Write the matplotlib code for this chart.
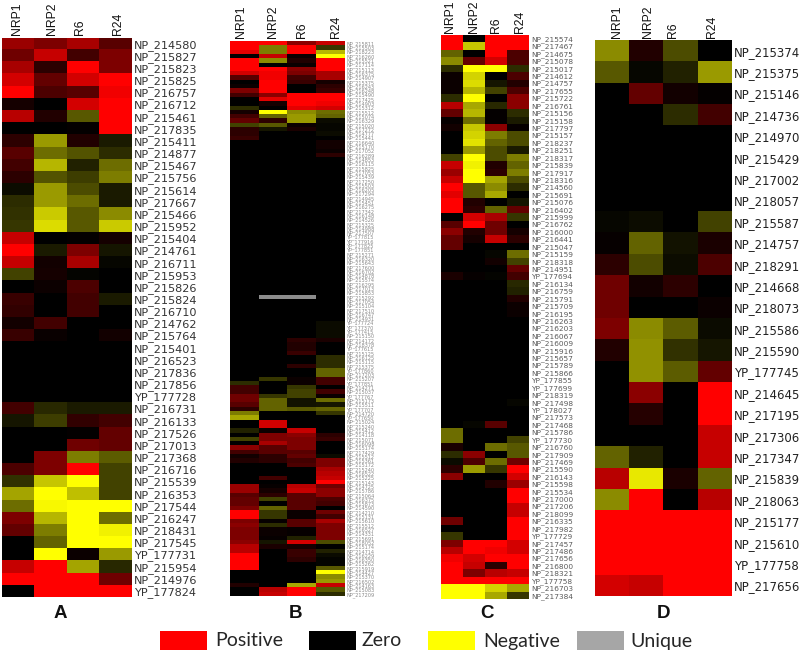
import numpy as np
import matplotlib
matplotlib.use("Agg")
import matplotlib.pyplot as plt
from matplotlib.colors import LinearSegmentedColormap
from matplotlib.patches import Rectangle

W = 800
H = 654

# NaN = unique (grey)
panel_a = [
    [.65, .55, .7, .4], [.5, .8, .3, .55], [.7, .2, 1, .55], [.85, .45, .85, 1],
    [1, .35, .4, .95], [.1, 0, .85, 1], [.75, .15, -.4, 1], [0, 0, .02, 1],
    [.2, -.65, .15, -.12], [.4, -.5, -.38, -.2], [.3, -.75, -.15, -.5], [.2, -.38, -.28, -.55],
    [-.06, -.65, -.35, -.12], [-.2, -.65, -.5, -.12], [-.22, -.82, -.4, -.6], [-.25, -.88, -.4, -.82],
    [.8, 0, .02, .1], [1, -.12, .55, -.1], [.8, .08, .7, -.03], [-.3, .1, -.02, 0],
    [0, .06, .35, 0], [.25, 0, .3, -.12], [.22, 0, .3, 0], [.08, .3, 0, 0],
    [.25, .04, 0, .08], [0, 0, 0, 0], [0, 0, 0, 0], [0, 0, 0, 0], [0, 0, 0, 0], [0, 0, 0, 0],
    [.3, -.18, -.12, -.12], [-.1, -.28, .22, .3], [0, 0, .02, .45], [0, 0, .5, .45],
    [0, .55, -.55, -.42], [.35, .55, 1, -.3], [-.22, -.8, -1, -.3], [-.68, -1, -.78, -.3],
    [-.5, -.97, -1, -1], [.55, -.75, -1, -.5], [.45, -.55, -1, -.95], [0, -.45, -1, -1],
    [0, -1, .05, -.65], [.8, 1, -.68, -.18], [1, 1, 1, .5], [0, 1, 1, 1],
]
labels_a = [
    "NP_214580", "NP_215827", "NP_215823", "NP_215825", "NP_216757", "NP_216712", "NP_215461", "NP_217835",
    "NP_215411", "NP_214877", "NP_215467", "NP_215756", "NP_215614", "NP_217667", "NP_215466", "NP_215952",
    "NP_215404", "NP_214761", "NP_216711", "NP_215953", "NP_215826", "NP_215824", "NP_216710", "NP_214762",
    "NP_215764", "NP_215401", "NP_216523", "NP_217836", "NP_217856", "YP_177728", "NP_216731", "NP_216133",
    "NP_217526", "NP_217013", "NP_217368", "NP_216716", "NP_215539", "NP_216353", "NP_217544", "NP_216247",
    "NP_218431", "NP_217545", "YP_177731", "NP_215954", "NP_214976", "YP_177824",
]

panel_b = [
    [1, 1, .6, .8], [1, -.55, 1, -.25], [.9, -.55, 1, -.75], [0, .8, .05, -1],
    [1, -.6, .15, 1], [1, 0, .05, 1], [1, 1, .6, 1], [.85, .95, .55, .7],
    [.4, .95, .3, .7], [0, 1, .25, .1], [.05, 1, 0, .2], [.55, 1, 0, .25],
    [.3, .6, 1, 1], [0, .9, 1, 1], [0, .1, 1, .95], [-.2, 0, .9, .85],
    [.1, -1, -.6, -.5], [.3, -.45, -.65, -.45], [.45, .2, -.65, -.05], [-.3, -.4, .05, -.03],
    [.2, -.1, .12, -.03], [.2, 0, 0, -.05], [.25, 0, 0, 0], [0, 0, 0, .08],
    [0, 0, 0, .08], [0, 0, 0, .05], [0, 0, 0, .2],
] + [[0, 0, 0, 0]] * 32 + [[0, np.nan, np.nan, 0]] + [[0, 0, 0, 0]] * 5 + [
    [0, 0, 0, -.05], [0, 0, 0, -.05], [0, 0, 0, -.05], [0, 0, 0, -.05],
    [0, 0, .2, .12], [0, 0, .15, 0], [0, 0, .15, 0], [0, 0, .25, 0],
    [0, 0, 0, -.2], [0, 0, 0, -.2], [0, 0, .2, -.2], [0, 0, 0, -.45],
    [0, 0, 0, -.45], [0, -.25, .05, .3], [-.2, 0, .05, .3], [.3, 0, -.25, 0],
    [.3, 0, -.3, .3], [.5, -.25, -.3, .05], [.5, -.45, -.08, -.5], [.4, -.45, -.08, -.1],
    [.2, -.45, -.4, -.45], [-.55, 0, 0, -.25], [-.7, 0, 0, 0], [0, .85, 0, 0],
    [0, .85, 0, 0], [-.15, .05, .8, 0], [0, .55, .6, .2], [-.3, .55, .55, .25],
    [0, .7, .55, 0], [.6, .4, .55, 0], [.3, .4, .4, 0], [.08, .2, .45, -.05],
    [.15, .2, .3, .55], [0, 0, .35, .55], [0, 0, 0, .7], [0, 0, 0, .75],
    [0, .3, 0, .8], [0, 0, 0, 1], [.65, .03, .75, .5], [.65, .1, .8, .6],
    [.4, .2, .4, .6], [.45, -.3, .4, .35], [.45, 0, .4, .3], [.55, -.45, .4, 0],
    [1, -.25, .05, .5], [1, -.25, .05, .3], [.55, .03, .4, .7], [.6, -.2, .4, .55],
    [.55, .05, .03, .55], [.55, .05, .03, .55], [.55, .03, -.15, .55], [.6, -.1, .85, -.35],
    [.75, .12, .1, 0], [.75, 0, .25, -.15], [1, 0, .25, -.05], [1, 0, .2, -.02],
    [1, 0, 0, -.02], [1, 0, 0, -.4], [0, 0, 0, -1], [0, 0, 0, -.6],
    [0, 0, 0, -.65], [.15, 0, -.7, .8], [0, .75, 1, -.4], [0, .8, 1, -.2],
]
# smudged in the reference, these are best guesses
labels_b = """NP_215811 NP_215503 NP_218223 NP_216260 NP_215521 NP_217114 NP_215113 NP_216375 NP_214907 NP_215375
NP_216243 NP_216248 NP_215490 NP_217425 NP_214903 NP_215312 NP_215512 NP_215074 NP_216329 NP_215020
NP_217272 NP_214777 NP_215441 NP_216640 NP_215170 NP_217052 NP_216289 NP_214853 NP_216115 NP_215825
NP_217053 NP_215439 NP_217250 NP_215503 NP_216205 NP_217294 NP_214945 NP_215451 NP_216275 NP_217342
NP_216148 NP_214526 NP_215325 NP_214988 NP_217507 YP_177815 YP_177916 YP_177825 YP_177851 NP_215271
NP_216320 NP_215643 NP_217600 NP_216702 NP_214878 NP_215574 NP_216295 NP_217013 NP_215853 NP_215292
NP_217054 NP_215104 NP_217510 NP_216747 NP_214931 YP_177724 YP_177370 YP_177415 NP_215150 NP_214172
NP_218378 YP_177615 NP_215125 NP_216125 NP_215115 NP_215375 YP_177860 NP_217203 NP_215207 YP_177851
NP_214271 NP_215037 YP_177767 NP_215173 NP_215511 YP_177707 NP_214720 YP_177650 NP_215024 NP_215240
NP_215412 NP_214118 NP_215071 NP_216098 NP_215174 NP_217429 NP_215512 NP_215361 NP_215172 NP_215240
NP_216522 NP_215225 NP_215143 NP_214725 NP_215786 NP_215064 NP_216375 NP_215873 NP_214590 NP_214210
NP_215131 NP_215610 NP_215512 NP_216527 NP_214331 NP_215691 NP_218052 NP_215174 NP_214714 NP_216229
NP_216350 NP_215262 NP_215919 NP_214427 NP_215370 NP_216502 NP_214163 NP_215083 NP_217209""".split()

panel_c = [
    [1, 0, 1, 1], [1, -.8, 1, 1], [-.45, 0, 1, .35], [-.6, .45, .85, .35],
    [-.2, -1, -1, -.2], [.05, -.85, 0, .35], [.05, -.88, -.1, .15], [.05, -.75, -.3, .35],
    [-.2, -1, 0, .6], [.75, -.7, -.18, .6], [.45, -.75, .02, -.2], [.03, -.5, .02, -.12],
    [.08, -.8, .6, .03], [0, -.85, -.55, -.35], [0, -.9, -.45, -.35], [0, -.65, -.35, -.12],
    [-.3, -1, -.35, -.55], [.8, -.95, .15, -.45], [.65, -1, .2, -.55], [.8, -1, -.68, -.35],
    [1, -.4, -.6, -.2], [.9, -.4, -.7, 0], [1, .15, 0, -.1], [1, .2, -.45, .45],
    [0, .85, .7, -.25], [.4, 1, .5, 0], [.6, .15, .5, .1], [.45, .1, .8, .2],
    [.45, 0, 0, 0], [0, 0, -.03, -.5], [0, 0, .08, -.3], [0, 0, 0, .45],
    [.12, .03, -.02, .3], [0, 0, 0, -.18], [0, 0, 0, -.15], [0, 0, 0, .15],
    [0, 0, 0, .06], [0, 0, 0, .05],
] + [[0, 0, 0, 0]] * 11 + [
    [0, 0, 0, -.03], [0, 0, 0, 0], [0, 0, 0, 0], [0, -.03, .4, 0],
    [-.5, 0, 0, 0], [-.5, 0, 0, -.3], [.12, 0, -.5, -.4], [-.2, .6, 0, -.4],
    [-.05, .35, -.5, .5], [.2, -.65, -.25, 1], [.6, 0, 0, .85], [0, 0, .15, .65],
    [0, 0, 0, 1], [0, 0, 0, 1], [0, 0, 0, .8], [0, 0, 0, .8],
    [.5, 0, 0, 1], [0, 0, 0, 1], [-.25, 0, 0, 1], [.55, 1, 1, .85],
    [.75, 1, .95, .85], [.95, .85, 1, 1], [1, .8, .2, 1], [1, .55, .75, .8],
    [1, 1, 1, 1], [-1, -1, -.85, -.7], [-1, -1, -.7, -.25],
]
labels_c = """NP_215574 NP_217467 NP_214675 NP_215078 NP_215017 NP_214612 NP_214757 NP_217655 NP_215722 NP_216761
NP_215156 NP_215158 NP_217797 NP_215157 NP_218237 NP_218251 NP_218317 NP_215839 NP_217917 NP_218316
NP_214560 NP_215691 NP_215076 NP_216402 NP_215999 NP_216762 NP_216000 NP_216441 NP_215047 NP_215159
NP_218318 NP_214951 YP_177694 NP_216134 NP_216759 NP_215791 NP_215709 NP_216195 NP_216263 NP_216203
NP_216067 NP_216009 NP_215916 NP_215657 NP_215789 NP_215866 YP_177855 YP_177699 NP_218319 NP_217498
YP_178027 NP_217573 NP_217468 NP_215786 YP_177730 NP_216760 NP_217909 NP_217469 NP_215590 NP_216143
NP_215598 NP_215534 NP_217000 NP_217206 NP_218099 NP_216335 NP_217982 YP_177729 NP_217457 NP_217486
NP_217656 NP_216800 NP_218321 YP_177758 NP_216703 NP_217384""".split()

panel_d = [
    [-.6, .15, -.35, 0], [-.4, -.03, -.15, -.65], [0, .45, .08, .02], [0, 0, -.2, .3],
    [0, 0, 0, 0], [0, 0, 0, 0], [0, 0, 0, 0], [0, 0, 0, 0],
    [-.03, -.06, 0, -.3], [.03, -.45, -.08, .12], [.2, -.35, -.06, .35], [.5, .08, .2, 0],
    [.5, 0, 0, .05], [.55, -.6, -.42, -.05], [.15, -.62, -.22, -.1], [0, -.62, -.42, .45],
    [0, .6, 0, 1], [0, .17, 0, 1], [0, 0, 0, .8], [-.45, -.15, 0, .8],
    [.75, -.92, .12, -.45], [-.6, 1, 0, .75], [1, 1, 1, 1], [1, 1, 1, 1],
    [1, 1, 1, 1], [.85, .8, 1, 1],
]
labels_d = """NP_215374 NP_215375 NP_215146 NP_214736 NP_214970 NP_215429 NP_217002 NP_218057 NP_215587 NP_214757
NP_218291 NP_214668 NP_218073 NP_215586 NP_215590 YP_177745 NP_214645 NP_217195 NP_217306 NP_217347
NP_215839 NP_218063 NP_215177 NP_215610 YP_177758 NP_217656""".split()

conditions = ["NRP1", "NRP2", "R6", "R24"]
panel_names = ["A", "B", "C", "D"]
legend_names = ["Positive", "Zero", "Negative", "Unique"]
legend_colors = ["#ff0000", "#000000", "#ffff00", "#a6a6a6"]

cmap = LinearSegmentedColormap.from_list("gbr", [
    (0, "#ffff00"), (.25, "#6e6e00"), (.5, "#000000"), (.75, "#6e0000"), (1, "#ff0000")])
cmap.set_bad("#8c8c8c")

fig = plt.figure(figsize=(W / 100, H / 100), dpi=100)


def px_axes(x0, y0, x1, y1):
    return fig.add_axes([x0 / W, 1 - y1 / H, (x1 - x0) / W, (y1 - y0) / H])


def heatmap(data, labels, box, size, color, stretch="normal"):
    ax = px_axes(*box)
    ax.imshow(np.ma.masked_invalid(np.array(data, dtype=float)), cmap=cmap, vmin=-1, vmax=1,
              aspect="auto", interpolation="nearest")
    ax.set_xticks([])
    ax.yaxis.tick_right()
    ax.set_yticks(range(len(labels)))
    ax.set_yticklabels(labels, family="DejaVu Sans", fontsize=size, color=color, stretch=stretch)
    ax.tick_params(axis="y", length=0, pad=1.5)
    for s in ax.spines.values():
        s.set_visible(False)
    return ax


heatmap(panel_a, labels_a, (2, 37.7, 132, 597), 8.1, "#333333")
heatmap(panel_b, labels_b, (229.5, 41, 344, 596), 3.6, "#8a8a8a")
heatmap(panel_c, labels_c, (441, 35, 529, 599), 5.3, "#5a5a5a")
heatmap(panel_d, labels_d, (595, 40, 731.5, 596), 9.4, "#222222", stretch="condensed")

# column headers
header_x = [
    [17, 52, 80, 118],
    [241, 273, 302, 336],
    [450, 474, 496, 520],
    [617, 648, 673, 712],
]
header_y = [35, 38, 33, 38]
for xs, y in zip(header_x, header_y):
    for x, name in zip(xs, conditions):
        fig.text(x / W, 1 - y / H, name, rotation=90, ha="center", va="bottom",
                 family="Liberation Sans", fontsize=8.8, color="#111111")

for x, name in zip([60, 295, 487, 664], panel_names):
    fig.text(x / W, 1 - 614 / H, name, ha="center", va="center",
             family="Liberation Sans", fontweight="bold", fontsize=13.5, color="#111111")

# legend
swatch_x = [160, 309, 428, 577]
text_x = [215, 362, 483, 630]
for sx, tx, name, col in zip(swatch_x, text_x, legend_names, legend_colors):
    fig.add_artist(Rectangle((sx / W, 1 - 650 / H), 47 / W, 19 / H, transform=fig.transFigure,
                             facecolor=col, edgecolor="none"))
    fig.text(tx / W, 1 - 641 / H, name, ha="left", va="center", family="Lato",
             fontsize=14, color="#262626")

fig.savefig("out.png", dpi=100)
